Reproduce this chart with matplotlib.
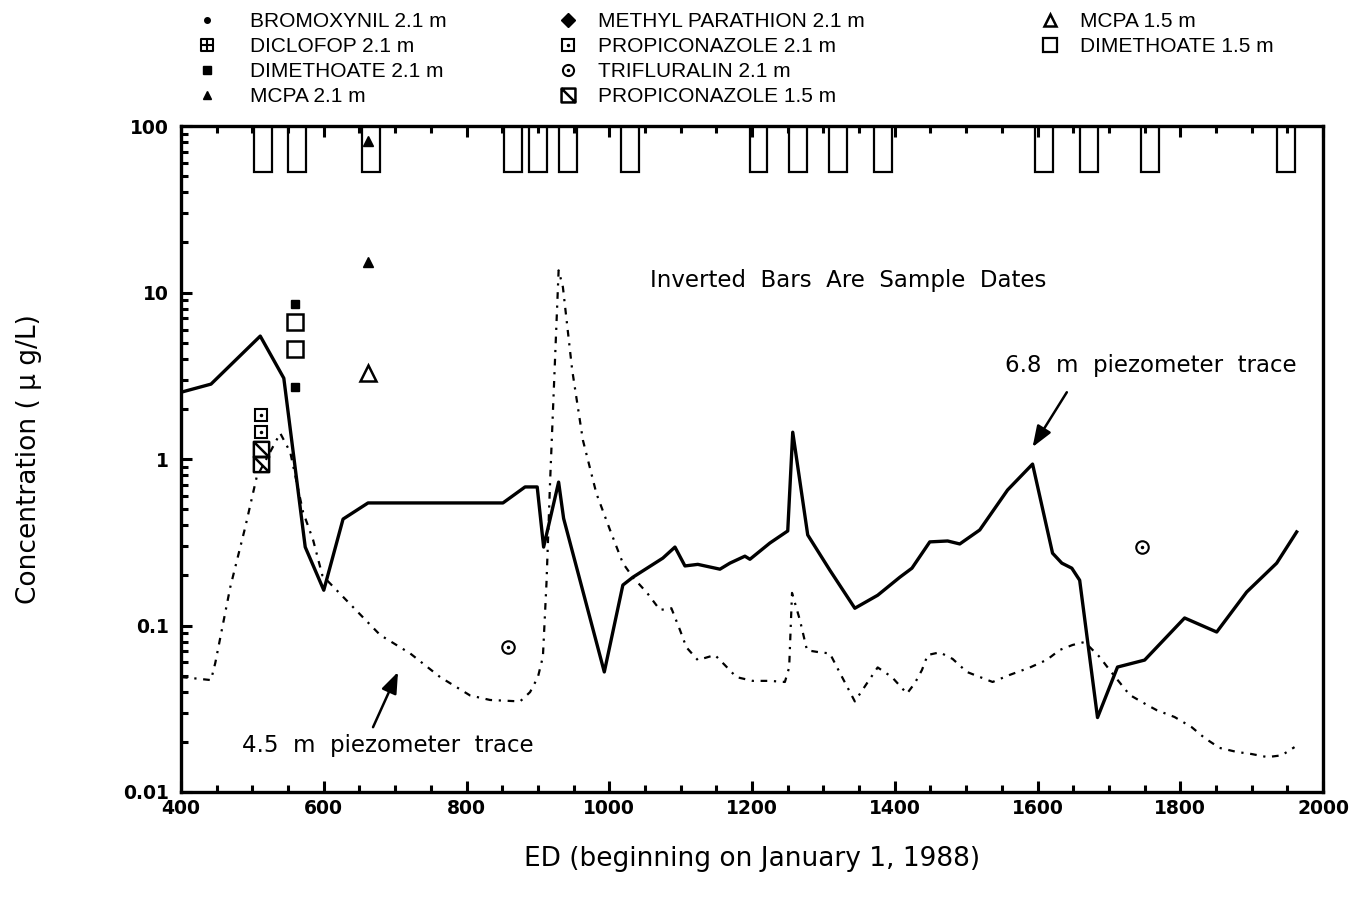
import numpy as np
import matplotlib.pyplot as plt
import matplotlib.path as mpath
from matplotlib.lines import Line2D
from matplotlib.legend_handler import HandlerTuple
from matplotlib.ticker import MultipleLocator, FuncFormatter, LogLocator, NullFormatter

# 6.8 m piezometer trace (solid)
ed_68 = [400, 442, 511, 544, 574, 600, 627, 662, 851, 882,
         899, 908, 929, 936, 993, 1019, 1033, 1075, 1092, 1106,
         1124, 1155, 1169, 1190, 1197, 1225, 1250, 1257, 1278, 1309,
         1344, 1376, 1407, 1424, 1449, 1474, 1491, 1519, 1558, 1593,
         1621, 1634, 1648, 1659, 1684, 1712, 1750, 1806, 1851, 1893,
         1935, 1963]
conc_68 = [2.52, 2.82, 5.48, 3.06, 0.296, 0.163, 0.436, 0.545, 0.545, 0.68,
           0.68, 0.296, 0.727, 0.44, 0.0526, 0.175, 0.195, 0.254, 0.296, 0.228,
           0.233, 0.218, 0.237, 0.261, 0.25, 0.313, 0.37, 1.45, 0.35, 0.215,
           0.127, 0.152, 0.195, 0.221, 0.318, 0.322, 0.309, 0.375, 0.652, 0.933,
           0.272, 0.237, 0.221, 0.187, 0.028, 0.0563, 0.062, 0.111, 0.0914, 0.159,
           0.237, 0.365]

# 4.5 m piezometer trace (dash-dot)
ed_45 = [400, 422, 442, 448, 469, 490, 506, 539, 553, 571,
         585, 598, 611, 641, 679, 721, 763, 805, 833, 875,
         889, 900, 907, 912, 917, 929, 935, 948, 963, 982,
         1001, 1019, 1033, 1053, 1071, 1087, 1099, 1108, 1124, 1148,
         1162, 1178, 1201, 1225, 1246, 1252, 1256, 1267, 1277, 1295,
         1309, 1323, 1344, 1361, 1376, 1396, 1417, 1428, 1438, 1446,
         1463, 1481, 1501, 1537, 1561, 1589, 1613, 1631, 1649, 1666,
         1687, 1701, 1729, 1753, 1767, 1792, 1816, 1834, 1855, 1879,
         1900, 1922, 1942, 1960]
conc_45 = [0.049, 0.048, 0.047, 0.0596, 0.17, 0.39, 0.78, 1.43, 1.1, 0.48,
           0.327, 0.2, 0.175, 0.129, 0.0877, 0.068, 0.049, 0.038, 0.0357, 0.035,
           0.0398, 0.049, 0.065, 0.18, 0.72, 13.6, 10.8, 3.43, 1.3, 0.62,
           0.375, 0.237, 0.195, 0.157, 0.124, 0.127, 0.094, 0.074, 0.062, 0.0665,
           0.0578, 0.049, 0.0465, 0.0465, 0.0458, 0.056, 0.157, 0.108, 0.071, 0.069,
           0.068, 0.052, 0.035, 0.045, 0.056, 0.049, 0.039, 0.045, 0.054, 0.0665,
           0.069, 0.063, 0.0526, 0.0458, 0.0505, 0.0559, 0.0622, 0.0713, 0.0764, 0.0796,
           0.0647, 0.054, 0.0383, 0.0334, 0.031, 0.0282, 0.0245, 0.0211, 0.0184, 0.0174,
           0.0169, 0.0162, 0.0166, 0.0186]

# sample dates (inverted bars)
sample_dates = [515, 563, 666, 865, 900, 942, 1029, 1209, 1264, 1320,
                1383, 1609, 1672, 1757, 1948]
bar_bottom = 53

# pesticide detections
dimethoate21_x, dimethoate21_y = [560, 560], [8.5, 2.7]
dimethoate15_x, dimethoate15_y = [560, 560], [6.65, 4.58]
mcpa21_x, mcpa21_y = [662, 662], [81, 15.2]
mcpa15_x, mcpa15_y = [662], [3.29]
prop21_x, prop21_y = [512, 512], [1.84, 1.46]
prop15_x, prop15_y = [512, 512], [1.15, 0.93]
trifl21_x, trifl21_y = [858, 1746], [0.0743, 0.296]

FONT = ['DejaVu Sans']
LEGFONT = ['Liberation Sans', 'DejaVu Sans']

# custom marker paths
M, L, C = mpath.Path.MOVETO, mpath.Path.LINETO, mpath.Path.CLOSEPOLY
sq_v = [(-1, -1), (1, -1), (1, 1), (-1, 1), (-1, -1)]
sq_c = [M, L, L, L, C]
cross_sq = mpath.Path(sq_v + [(0, -1), (0, 1), (-1, 0), (1, 0)],
                      sq_c + [M, L, M, L])
diag_sq = mpath.Path(sq_v + [(-1, 1), (1, -1)], sq_c + [M, L])


def main():
    plt.rcParams['font.family'] = FONT
    fig = plt.figure(figsize=(13.57, 9.01), dpi=100)
    ax = fig.add_axes([0.1334, 0.121, 0.8416, 0.739])

    ax.set_yscale('log')
    ax.set_xlim(400, 2000)
    ax.set_ylim(0.01, 100)

    # inverted bars hanging from the top
    ax.bar(sample_dates, [100 - bar_bottom] * len(sample_dates), bottom=bar_bottom,
           width=25, fill=False, edgecolor='black', linewidth=1.6, zorder=3)

    ax.plot(ed_68, conc_68, color='black', lw=2.4, zorder=4)
    ax.plot(ed_45, conc_45, color='black', lw=1.6, ls=(0, (3, 3, 1, 3)), zorder=4)

    k = dict(ls='none', color='black', zorder=5)
    ax.plot(dimethoate21_x, dimethoate21_y, marker='s', ms=6, **k)
    ax.plot(dimethoate15_x, dimethoate15_y, marker='s', ms=11, mfc='white', mew=1.8, **k)
    ax.plot(mcpa21_x, mcpa21_y, marker='^', ms=7, **k)
    ax.plot(mcpa15_x, mcpa15_y, marker='^', ms=11, mfc='white', mew=1.8, **k)
    ax.plot(prop21_x, prop21_y, marker='s', ms=9, mfc='white', mew=1.5, **k)
    ax.plot(prop21_x, prop21_y, marker='.', ms=3, **k)
    ax.plot(prop15_x, prop15_y, marker=diag_sq, ms=11, mfc='none', mew=1.8, **k)
    ax.plot(trifl21_x, trifl21_y, marker='o', ms=9, mfc='white', mew=1.5, **k)
    ax.plot(trifl21_x, trifl21_y, marker='.', ms=3, **k)

    # ticks
    ax.xaxis.set_major_locator(MultipleLocator(200))
    ax.xaxis.set_minor_locator(MultipleLocator(50))
    ax.yaxis.set_major_locator(LogLocator(base=10, numticks=10))
    ax.yaxis.set_minor_locator(LogLocator(base=10, subs=np.arange(2, 10), numticks=20))
    ax.yaxis.set_minor_formatter(NullFormatter())
    ax.yaxis.set_major_formatter(FuncFormatter(lambda v, p: '%g' % v))
    ax.tick_params(which='both', direction='in', top=True, right=False, width=2.2)
    ax.tick_params(which='major', length=8)
    ax.tick_params(which='minor', length=5)
    ax.tick_params(axis='x', pad=5, labelsize=13.5)
    ax.tick_params(axis='y', pad=9, labelsize=13.5)
    for lab in ax.get_xticklabels() + ax.get_yticklabels():
        lab.set_fontweight('bold')
    for s in ax.spines.values():
        s.set_linewidth(2.4)

    ax.set_xlabel('ED (beginning on January 1, 1988)', fontsize=19, labelpad=20)
    ax.set_ylabel('Concentration ( \u00b5 g/L)', fontsize=19, labelpad=58)

    # annotations
    ax.text(1334, 11.9, 'Inverted  Bars  Are  Sample  Dates', ha='center', va='center',
            fontsize=16.5)
    ax.text(1759, 3.67, '6.8  m  piezometer  trace', ha='center', va='center', fontsize=16.5)
    arrow = dict(arrowstyle='-|>,head_length=0.8,head_width=0.3', color='black',
                 lw=1.8, mutation_scale=16, shrinkA=0, shrinkB=0)
    ax.annotate('', xy=(1593, 1.18), xytext=(1641, 2.52), arrowprops=arrow)
    ax.text(690, 0.0191, '4.5  m  piezometer  trace', ha='center', va='center', fontsize=16.5)
    ax.annotate('', xy=(704, 0.0526), xytext=(669, 0.0245), arrowprops=arrow)

    # legend (three columns placed at the top of the figure)
    def h(**kw):
        return Line2D([], [], ls='none', color='black', **kw)

    col1 = [
        (h(marker='o', ms=4), 'BROMOXYNIL 2.1 m'),
        (h(marker=cross_sq, ms=8, mfc='none', mew=1.5), 'DICLOFOP 2.1 m'),
        (h(marker='s', ms=6), 'DIMETHOATE 2.1 m'),
        (h(marker='^', ms=6), 'MCPA 2.1 m'),
    ]
    col2 = [
        (h(marker='D', ms=7), 'METHYL PARATHION 2.1 m'),
        ((h(marker='s', ms=8, mfc='white', mew=1.5), h(marker='.', ms=3)), 'PROPICONAZOLE 2.1 m'),
        ((h(marker='o', ms=8, mfc='white', mew=1.5), h(marker='.', ms=3)), 'TRIFLURALIN 2.1 m'),
        (h(marker=diag_sq, ms=10, mfc='none', mew=1.8), 'PROPICONAZOLE 1.5 m'),
    ]
    col3 = [
        (h(marker='^', ms=9, mfc='white', mew=1.8), 'MCPA 1.5 m'),
        (h(marker='s', ms=10, mfc='white', mew=1.6), 'DIMETHOATE 1.5 m'),
    ]
    for items, x0, pad in [(col1, 0.1341, 1.57), (col2, 0.400, 0.94), (col3, 0.7553, 0.94)]:
        fig.legend([i[0] for i in items], [i[1] for i in items],
                   loc='upper left', bbox_to_anchor=(x0, 1.003),
                   frameon=False, handlelength=1.0, handletextpad=pad,
                   labelspacing=0.29, borderpad=0.2,
                   prop={'family': LEGFONT, 'size': 15},
                   handler_map={tuple: HandlerTuple(ndivide=1)})

    fig.savefig('out.png', dpi=100)


if __name__ == '__main__':
    main()
